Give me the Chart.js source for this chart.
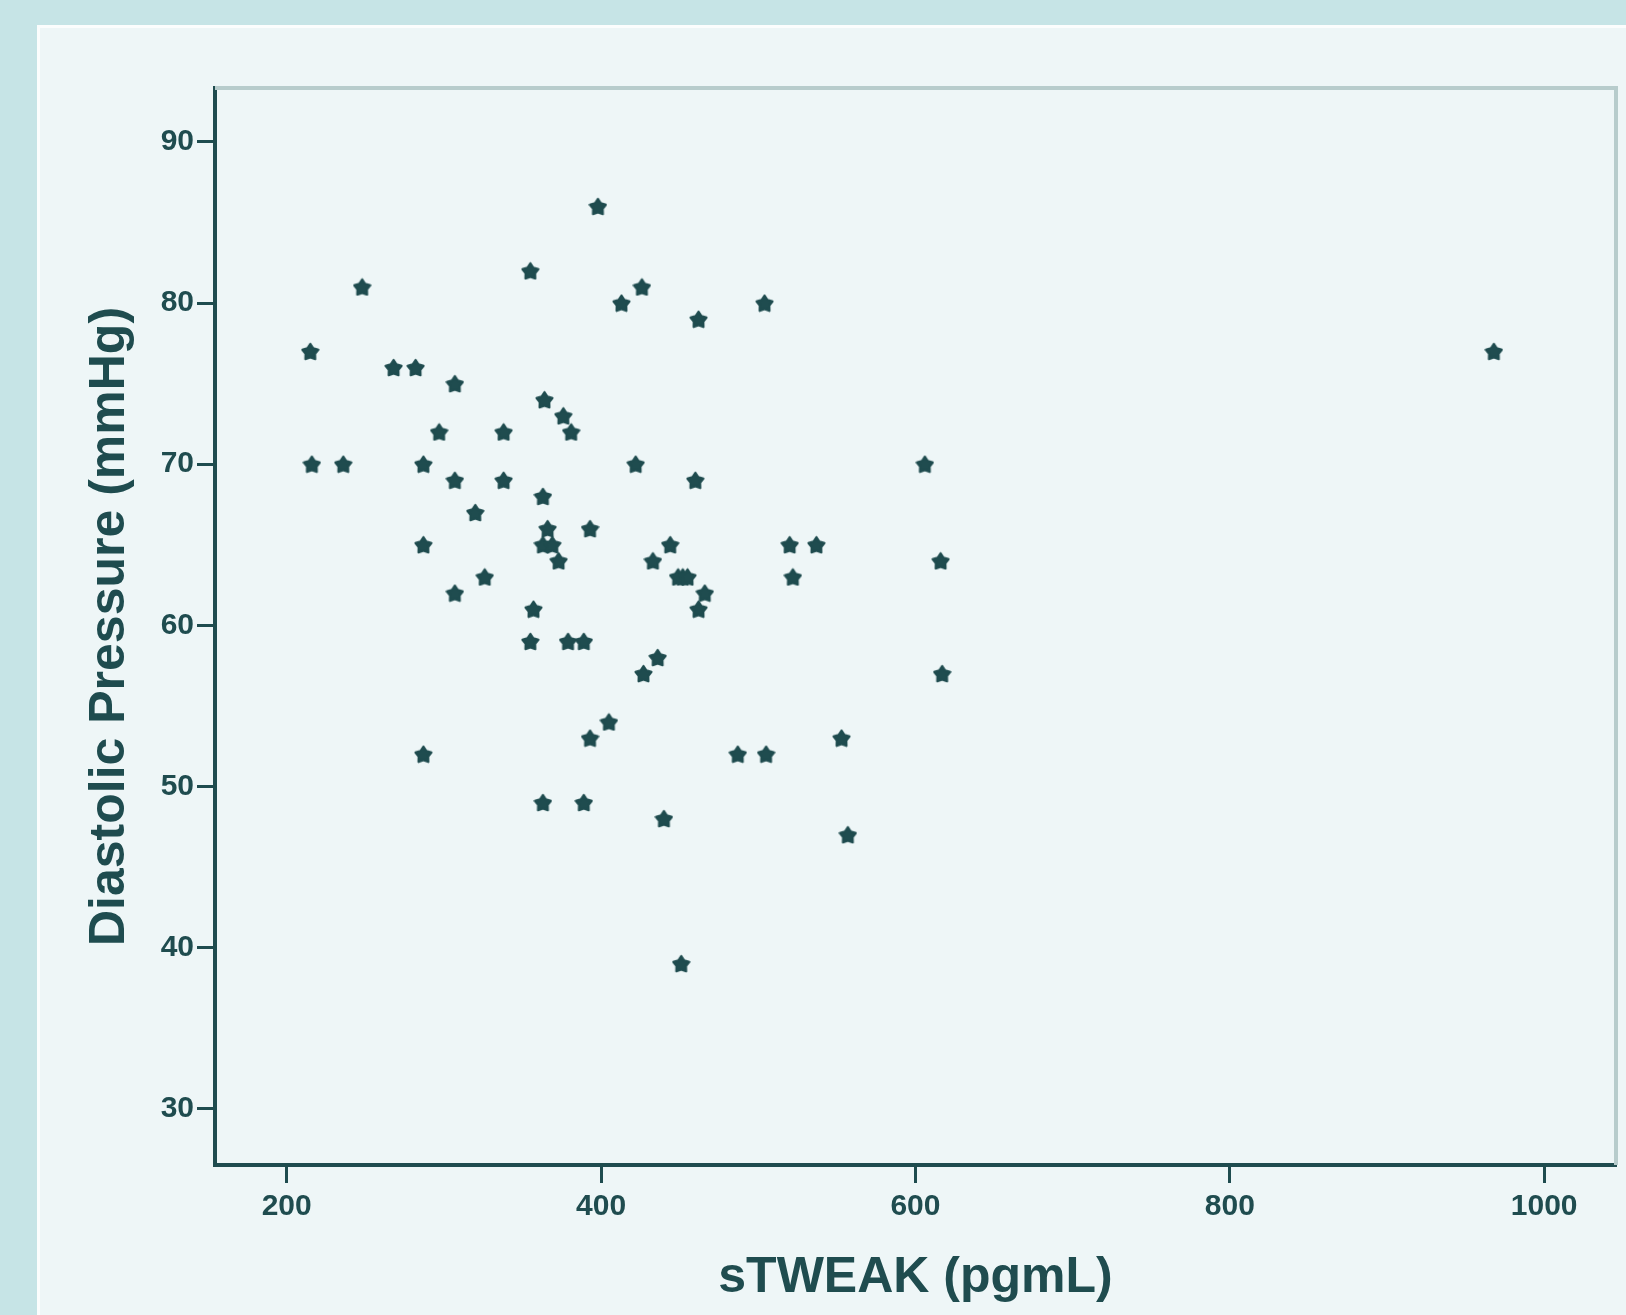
<!DOCTYPE html>
<html>
<head>
<meta charset="utf-8">
<script src="https://cdn.jsdelivr.net/npm/chart.js@4/dist/chart.umd.min.js"></script>
<style>
  html, body { margin: 0; padding: 0; background: #c6e4e6; }
  #wrap { width: 1626px; height: 1315px; position: relative; }
  canvas { display: block; }
</style>
</head>
<body>
<div id="wrap"><canvas id="c" width="1626" height="1315"></canvas></div>
<script>
// ---- data ----
const sTweak = [215, 216, 236, 248, 268, 282, 307, 297, 287, 307, 320, 287, 307, 326, 287,
  338, 338, 355, 364, 376, 381, 363, 366, 363, 369, 373, 393, 357, 355, 379, 389,
  398, 413, 426, 422, 363, 389, 393, 405, 427, 436, 433, 444, 449, 452, 455, 466, 462, 460, 462,
  440, 451, 487, 505, 504, 520, 537, 522, 553, 557, 606, 616, 617, 968];
const diastolic = [77, 70, 70, 81, 76, 76, 75, 72, 70, 69, 67, 65, 62, 63, 52,
  72, 69, 82, 74, 73, 72, 68, 66, 65, 65, 64, 66, 61, 59, 59, 59,
  86, 80, 81, 70, 49, 49, 53, 54, 57, 58, 64, 65, 63, 63, 63, 62, 61, 69, 79,
  48, 39, 52, 52, 80, 65, 65, 63, 53, 47, 70, 64, 57, 77];
const xTicks = [200, 400, 600, 800, 1000];
const yTicks = [30, 40, 50, 60, 70, 80, 90];
const xTitle = 'sTWEAK (pgmL)';
const yTitle = 'Diastolic Pressure (mmHg)';

const DARK = '#1f4c4f';
const FRAME = '#b7cccc';

// filled star marker
function makeStar(size, color) {
  const c = document.createElement('canvas');
  c.width = size; c.height = size;
  const g = c.getContext('2d');
  const cx = size / 2, cy = size / 2 + 0.9, R = size / 2 - 1, r = R * 0.6;
  g.beginPath();
  for (let i = 0; i < 10; i++) {
    const ang = -Math.PI / 2 + i * Math.PI / 5;
    const rad = i % 2 === 0 ? R : r;
    const px = cx + rad * Math.cos(ang), py = cy + rad * Math.sin(ang);
    if (i === 0) g.moveTo(px, py); else g.lineTo(px, py);
  }
  g.closePath();
  g.fillStyle = color;
  g.lineJoin = 'round';
  g.strokeStyle = color;
  g.lineWidth = 2;
  g.fill();
  g.stroke();
  return c;
}
const star = makeStar(19, DARK);

const points = sTweak.map((x, i) => ({ x: x, y: diastolic[i] }));

const panelPlugin = {
  id: 'panel',
  beforeDraw(chart) {
    const ctx = chart.ctx;
    ctx.save();
    ctx.fillStyle = '#c6e4e6';
    ctx.fillRect(0, 0, chart.width, chart.height);
    ctx.fillStyle = '#fbfdfd';
    ctx.fillRect(37, 25, chart.width - 37, chart.height - 25);
    ctx.fillStyle = '#eef6f7';
    ctx.fillRect(40, 28, chart.width - 40, chart.height - 28);
    ctx.restore();
  },
  beforeDatasetsDraw(chart) {
    const a = chart.chartArea, ctx = chart.ctx;
    ctx.save();
    ctx.strokeStyle = FRAME;
    ctx.lineWidth = 4;
    ctx.beginPath();
    ctx.moveTo(a.left, a.top);
    ctx.lineTo(a.right, a.top);
    ctx.lineTo(a.right, a.bottom);
    ctx.stroke();
    ctx.restore();
  }
};

const fontTick = { family: "'Liberation Sans', Arial, sans-serif", size: 30, weight: 'bold' };
const fontTitle = { family: "'Liberation Sans', Arial, sans-serif", size: 50, weight: 'bold' };

new Chart(document.getElementById('c'), {
  type: 'scatter',
  data: {
    datasets: [{
      data: points,
      pointStyle: star,
      pointRadius: 9,
      pointHoverRadius: 9,
      backgroundColor: DARK,
      borderColor: DARK
    }]
  },
  options: {
    responsive: false,
    animation: false,
    events: [],
    layout: { padding: { top: 88, right: 8, left: 0, bottom: 0 } },
    plugins: { legend: { display: false }, tooltip: { enabled: false } },
    scales: {
      x: {
        type: 'linear',
        min: 154.4,
        max: 1045.7,
        afterFit(s) { s.height = 150; },
        afterBuildTicks(s) { s.ticks = xTicks.map(v => ({ value: v })); },
        grid: { drawOnChartArea: false, drawTicks: true, tickLength: 18, tickWidth: 3, tickColor: DARK },
        border: { display: true, color: DARK, width: 4 },
        ticks: { color: DARK, font: fontTick, padding: 6, maxRotation: 0, callback: v => String(v) },
        title: { display: true, text: xTitle, color: DARK, font: fontTitle, padding: { top: 0, bottom: 7 } }
      },
      y: {
        type: 'linear',
        min: 26.5,
        max: 93.35,
        afterFit(s) { s.width = 215; },
        afterBuildTicks(s) { s.ticks = yTicks.map(v => ({ value: v })); },
        grid: { drawOnChartArea: false, drawTicks: true, tickLength: 18, tickWidth: 3, tickColor: DARK },
        border: { display: true, color: DARK, width: 4 },
        ticks: { color: DARK, font: fontTick, padding: 3, callback: v => String(v) },
        title: { display: true, text: yTitle, color: DARK, font: fontTitle, padding: { top: 80, bottom: 0 } }
      }
    }
  },
  plugins: [panelPlugin]
});
</script>
</body>
</html>
